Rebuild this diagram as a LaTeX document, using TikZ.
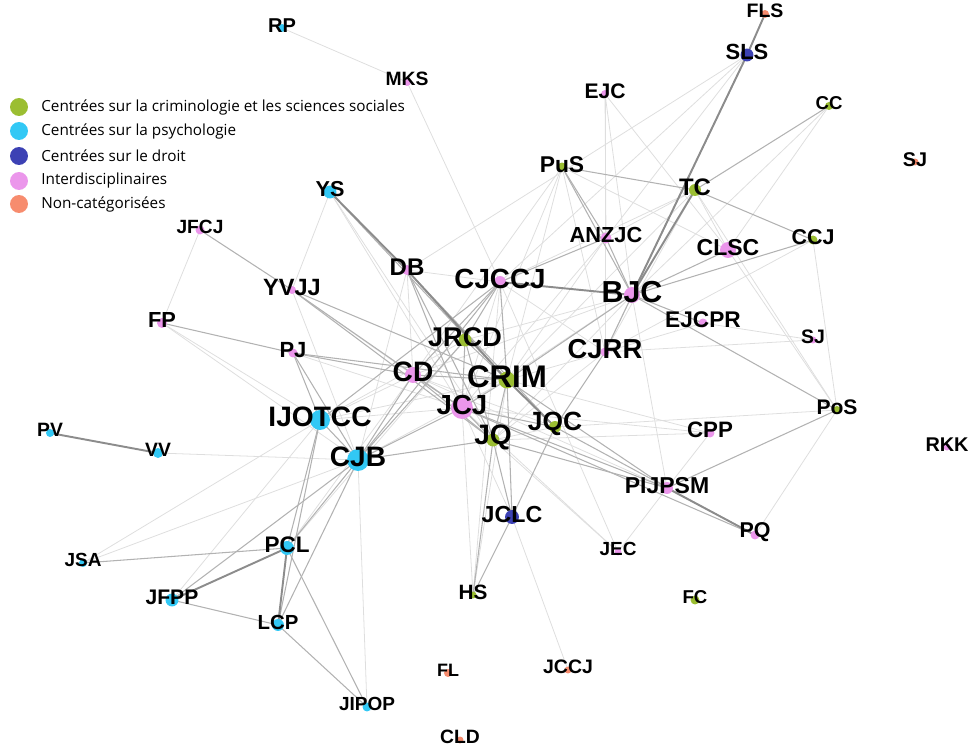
\documentclass[tikz,border=0pt]{standalone}
\usepackage{fontspec}
\setmainfont{Liberation Sans}
\newfontfamily\legfont{Open Sans}
\usetikzlibrary{positioning}

\definecolor{crimgreen}{RGB}{155,190,50}
\definecolor{psycyan}{RGB}{50,200,245}
\definecolor{lawblue}{RGB}{60,65,180}
\definecolor{interpink}{RGB}{235,150,235}
\definecolor{nocatorange}{RGB}{247,140,110}

\tikzset{
	heavy/.style={draw=black!45, line width=1.1pt},
	mid/.style={draw=black!30, line width=0.6pt},
	faint/.style={draw=black!13, line width=0.45pt},
	dot/.style={circle, inner sep=0pt, draw=none, fill=#1},
	legtext/.style={font=\legfont\fontsize{8.7}{9}\selectfont, anchor=west, inner sep=0pt},
}

\begin{document}
\begin{tikzpicture}[x=0.02cm, y=-0.02cm]
	\useasboundingbox (0,0) rectangle (969,746);
	
	% positions of the journals
	\coordinate (FLS) at (765,14);
	\coordinate (SLS) at (747,55);
	\coordinate (RP) at (282,28);
	\coordinate (MKS) at (407,82);
	\coordinate (EJC) at (605,94);
	\coordinate (CC) at (829,106);
	\coordinate (SJa) at (915,162);
	\coordinate (PuS) at (562,167);
	\coordinate (TC) at (695,190);
	\coordinate (YS) at (330,192);
	\coordinate (JFCJ) at (200,230);
	\coordinate (ANZJC) at (606,238);
	\coordinate (CCJ) at (813,240);
	\coordinate (CLSC) at (728,250);
	\coordinate (DB) at (407,270);
	\coordinate (CJCCJ) at (500,282);
	\coordinate (YVJJ) at (292,290);
	\coordinate (BJC) at (632,295);
	\coordinate (FP) at (162,323);
	\coordinate (EJCPR) at (703,323);
	\coordinate (SJb) at (813,340);
	\coordinate (JRCD) at (465,340);
	\coordinate (PJ) at (293,353);
	\coordinate (CJRR) at (605,352);
	\coordinate (CD) at (413,375);
	\coordinate (CRIM) at (507,380);
	\coordinate (JCJ) at (462,408);
	\coordinate (PoS) at (837,410);
	\coordinate (IJOTCC) at (320,420);
	\coordinate (JQC) at (555,427);
	\coordinate (PV) at (50,433);
	\coordinate (CPP) at (710,433);
	\coordinate (JQ) at (493,440);
	\coordinate (RKK) at (947,447);
	\coordinate (VV) at (158,453);
	\coordinate (CJB) at (358,460);
	\coordinate (PIJPSM) at (667,488);
	\coordinate (JCLC) at (512,517);
	\coordinate (PQ) at (755,535);
	\coordinate (PCL) at (287,548);
	\coordinate (JEC) at (618,552);
	\coordinate (JSA) at (83,563);
	\coordinate (HS) at (473,595);
	\coordinate (JFPP) at (172,600);
	\coordinate (FC) at (695,600);
	\coordinate (LCP) at (278,625);
	\coordinate (JCCJ) at (568,670);
	\coordinate (FL) at (448,673);
	\coordinate (JIPOP) at (367,707);
	\coordinate (CLD) at (460,740);
	
	% co-citation links
	\foreach \a/\b in {RP/MKS, MKS/CJCCJ, JFCJ/FP, FP/IJOTCC, FP/CJB, VV/CJB, JSA/IJOTCC, JSA/CJB,
		JFPP/IJOTCC, PCL/CD, PCL/JRCD, JIPOP/CJB, HS/JCJ, HS/CJCCJ, HS/CRIM, JCLC/JCCJ, JCLC/JCJ,
		JEC/PIJPSM, JEC/JQ, JEC/JCJ, JEC/CJCCJ, PIJPSM/CPP, PIJPSM/BJC, PIJPSM/CD, PQ/PoS, CPP/JCJ,
		CPP/JQ, CPP/CRIM, PoS/CCJ, PoS/CLSC, PoS/JQC, PoS/TC, SJb/EJCPR, SJb/CJRR, CCJ/CJRR,
		CLSC/TC, CLSC/CC, CLSC/EJC, CLSC/PuS, TC/CJRR, TC/CRIM, TC/ANZJC, TC/CJCCJ, SLS/CJCCJ,
		SLS/DB, SLS/ANZJC, EJC/ANZJC, EJC/CJRR, EJC/BJC, PuS/CJRR, PuS/CRIM, PuS/CD, PuS/JCJ,
		ANZJC/CRIM, ANZJC/JCJ, YS/JQ, YS/JCJ, YS/YVJJ, DB/CJCCJ, DB/CD, DB/CJB, YVJJ/CJB, YVJJ/CD,
		PJ/JCJ, IJOTCC/CRIM, IJOTCC/JCJ, IJOTCC/JRCD, IJOTCC/CD, CJB/CRIM, CD/JQC, CD/BJC,
		JRCD/BJC, CRIM/CJRR, JCJ/BJC, JCJ/CJCCJ, JQ/JQC, JQ/BJC, JQ/CJRR, CJRR/BJC, CJRR/CJCCJ,
		CJRR/EJCPR, CC/BJC}
		\draw[faint] (\a) -- (\b);
	\foreach \a/\b in {JFCJ/YVJJ, FP/PJ, JSA/PCL, JFPP/CJB, JFPP/LCP, LCP/IJOTCC, LCP/CJB,
		LCP/JIPOP, PCL/JIPOP, PCL/CJB, PCL/IJOTCC, HS/JQ, HS/JCLC, JCLC/JQC, JCLC/JQ, JCLC/CRIM,
		PIJPSM/PoS, PIJPSM/JCJ, PIJPSM/JQ, PIJPSM/CRIM, PQ/JCJ, PQ/JQC, PoS/BJC, CCJ/BJC, CCJ/TC,
		CLSC/BJC, TC/PuS, TC/CC, SLS/CJRR, PuS/ANZJC, PuS/BJC, ANZJC/BJC, ANZJC/CJCCJ, YS/CRIM,
		DB/JQ, DB/JCJ, DB/JQC, YVJJ/CRIM, YVJJ/JCJ, YVJJ/JQ, PJ/CD, PJ/CRIM, PJ/IJOTCC, PJ/CJB,
		IJOTCC/CJB, IJOTCC/CJCCJ, CJB/CJCCJ, CJB/CD, CJB/JRCD, CJB/JCJ, CJB/JQ, CD/JCJ, CD/CRIM,
		CD/JQ, CD/CJCCJ, JRCD/CJCCJ, JRCD/CRIM, JRCD/JCJ, JRCD/JQ, CRIM/JQ, CRIM/JCJ, CRIM/BJC,
		CRIM/CJCCJ, JCJ/JQ, JCJ/JQC, CJRR/JQC, BJC/EJCPR}
		\draw[mid] (\a) -- (\b);
	\foreach \a/\b in {FLS/SLS, SLS/BJC, PV/VV, JFPP/PCL, LCP/PCL, PIJPSM/PQ, TC/BJC, YS/DB,
		DB/CRIM, CRIM/JQC, CJCCJ/BJC}
		\draw[heavy] (\a) -- (\b);
	
	% journals, coloured by field
	\foreach \n/\c/\d in {FLS/nocatorange/8, SLS/lawblue/13, RP/psycyan/8, MKS/interpink/8,
		EJC/interpink/8, CC/crimgreen/8, SJa/nocatorange/7, PuS/crimgreen/9, TC/crimgreen/12,
		YS/psycyan/13, JFCJ/interpink/9, ANZJC/interpink/11, CCJ/crimgreen/9, CLSC/interpink/16,
		DB/interpink/10, CJCCJ/interpink/12, YVJJ/interpink/8, BJC/interpink/16, FP/interpink/10,
		EJCPR/interpink/9, SJb/interpink/7, JRCD/crimgreen/13, PJ/interpink/9, CJRR/interpink/9,
		CD/interpink/16, CRIM/crimgreen/17, JCJ/interpink/22, PoS/crimgreen/8, IJOTCC/psycyan/20,
		JQC/crimgreen/12, PV/psycyan/8, CPP/interpink/9, JQ/crimgreen/13, RKK/interpink/7,
		VV/psycyan/10, CJB/psycyan/22, PIJPSM/interpink/12, JCLC/lawblue/14, PQ/interpink/9,
		PCL/psycyan/14, JEC/interpink/7, JSA/psycyan/8, HS/crimgreen/7, JFPP/psycyan/13,
		FC/crimgreen/9, LCP/psycyan/12, JCCJ/nocatorange/7, FL/nocatorange/8, JIPOP/psycyan/9,
		CLD/nocatorange/7}
		\node[dot=\c, minimum size=\d*0.567pt] (\n-dot) at (\n) {};
	
	% journal labels
	\foreach \n/\t/\s in {FLS/FLS/11.1, SLS/SLS/12.5, RP/RP/11.4, MKS/MKS/11, EJC/EJC/12,
		CC/CC/10.6, SJa/SJ/11.3, PuS/PuS/13, TC/TC/13.6, YS/YS/12.3, JFCJ/JFCJ/10.9,
		ANZJC/ANZJC/12.4, CCJ/CCJ/12.2, CLSC/CLSC/13.1, DB/DB/13.7, CJCCJ/CJCCJ/15.8,
		YVJJ/YVJJ/13.4, BJC/BJC/17.3, FP/FP/12.4, EJCPR/EJCPR/12.9, SJb/SJ/11.1, JRCD/JRCD/15.4,
		PJ/PJ/12.5, CJRR/CJRR/15.6, CD/CD/16, CRIM/CRIM/17.8, JCJ/JCJ/15.7, PoS/PoS/12,
		IJOTCC/IJOTCC/16, JQC/JQC/15, PV/PV/11, CPP/CPP/12.7, JQ/JQ/16, RKK/RKK/11.3,
		VV/VV/11, CJB/CJB/16, PIJPSM/PIJPSM/13.1, JCLC/JCLC/13.2, PQ/PQ/12.2, PCL/PCL/12.8,
		JEC/JEC/10.8, JSA/JSA/10.8, HS/HS/11.8, JFPP/JFPP/12, FC/FC/10.6, LCP/LCP/11.6,
		JCCJ/JCCJ/11.1, FL/FL/10.2, JIPOP/JIPOP/10.8, CLD/CLD/11}
		\node[font=\fontsize{\s}{\s}\selectfont\bfseries, inner sep=0pt, yshift=1.6pt] (\n-lab) at (\n) {\t};
	
	% legend
	\node[dot=crimgreen, minimum size=18*0.567pt] (leg1) at (19,107) {};
	\node[dot=psycyan, minimum size=18*0.567pt] (leg2) at (19,131) {};
	\node[dot=lawblue, minimum size=18*0.567pt] (leg3) at (19,156) {};
	\node[dot=interpink, minimum size=18*0.567pt] (leg4) at (19,181) {};
	\node[dot=nocatorange, minimum size=18*0.567pt] (leg5) at (19,204) {};
	\node[legtext] (leg1-t) at (41,107) {Centrées sur la criminologie et les sciences sociales};
	\node[legtext] (leg2-t) at (41,131) {Centrées sur la psychologie};
	\node[legtext] (leg3-t) at (41,156) {Centrées sur le droit};
	\node[legtext] (leg4-t) at (41,181) {Interdisciplinaires};
	\node[legtext] (leg5-t) at (41,204) {Non-catégorisées};
\end{tikzpicture}
\end{document}
